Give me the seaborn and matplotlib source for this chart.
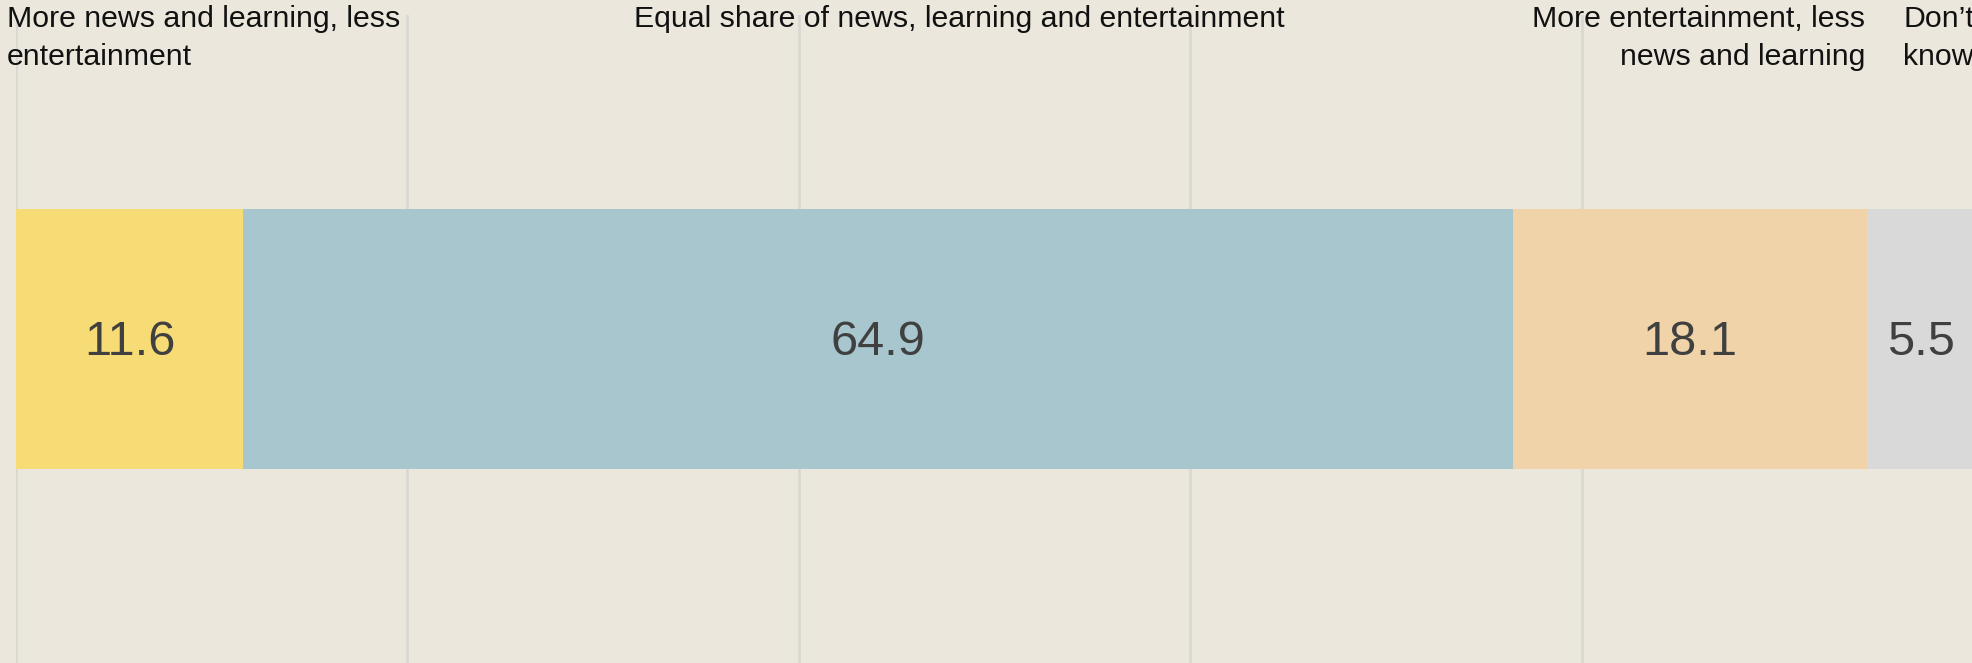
import matplotlib
matplotlib.use("Agg")
import matplotlib.pyplot as plt
import matplotlib.transforms as mtransforms
import seaborn as sns
import pandas as pd
import numpy as np

# Survey answers, in display order along the bar
categories = [
    "More news and learning, less entertainment",
    "Equal share of news, learning and entertainment",
    "More entertainment, less news and learning",
    "Don’t know",
]
header_labels = [
    "More news and learning, less\nentertainment",
    "Equal share of news, learning and entertainment",
    "More entertainment, less\nnews and learning",
    "Don’t\nknow",
]
shares = [11.6, 64.9, 18.1, 5.5]
colors = ["#F7DB74", "#A7C6CD", "#F0D3A8", "#D9D9D9"]

BG = "#EBE7DC"
W, H, DPI = 1972, 663, 100

sns.set_theme(style="white")
plt.rcParams["font.family"] = ["Liberation Sans", "DejaVu Sans"]

fig = plt.figure(figsize=(W / DPI, H / DPI), dpi=DPI, facecolor=BG)
px_per_unit = 19.57
left_px, top_px = 16, 15
ax = fig.add_axes([left_px / W, 0, (W - left_px) / W, (H - top_px) / H])
ax.set_facecolor(BG)

cum = np.cumsum(shares)
starts = cum - np.array(shares)
df = pd.DataFrame({"row": [""] * len(categories), "category": categories, "end": cum})

# Stacked bar: draw cumulative totals from the widest down so each shorter one sits on top
order = categories[::-1]
sns.barplot(
    data=df, x="end", y="row", hue="category", hue_order=order,
    palette=dict(zip(categories, colors)), dodge=False, saturation=1,
    width=0.8, linewidth=0, legend=False, orient="h", ax=ax,
)

ax.set_xlim(0, (W - left_px) / px_per_unit)
ax.set_ylim(1.0, -1.0)
ax.set_xticks(np.arange(0, 100, 20))
ax.grid(axis="x", color="#D9D8D3", linewidth=2)
ax.set_axisbelow(True)
ax.tick_params(length=0, labelbottom=False, labelleft=False)
ax.set_xlabel("")
ax.set_ylabel("")
for s in ax.spines.values():
    s.set_visible(False)

# Value labels centred in each segment
for s0, v in zip(starts, shares):
    ax.text(s0 + v / 2, 0.012, f"{v:.1f}", ha="center", va="center",
            fontsize=35, color="#404040")

# Category headers above the bar
trans = mtransforms.blended_transform_factory(ax.transData, fig.transFigure)
y_head = 1 - 5 / H
hdr_kw = dict(fontsize=21.8, color="#111111", va="top", linespacing=1.45,
              transform=trans)
ax.text(starts[0] - 9 / px_per_unit, y_head, header_labels[0], ha="left", **hdr_kw)
ax.text(48.2, y_head, header_labels[1], ha="center", **hdr_kw)
ax.text(cum[2] - 2 / px_per_unit, y_head, header_labels[2], ha="right",
        multialignment="right", **hdr_kw)
ax.text(cum[2] + 36 / px_per_unit, y_head, header_labels[3], ha="left", **hdr_kw)

fig.savefig("out.png", dpi=DPI, facecolor=BG)
